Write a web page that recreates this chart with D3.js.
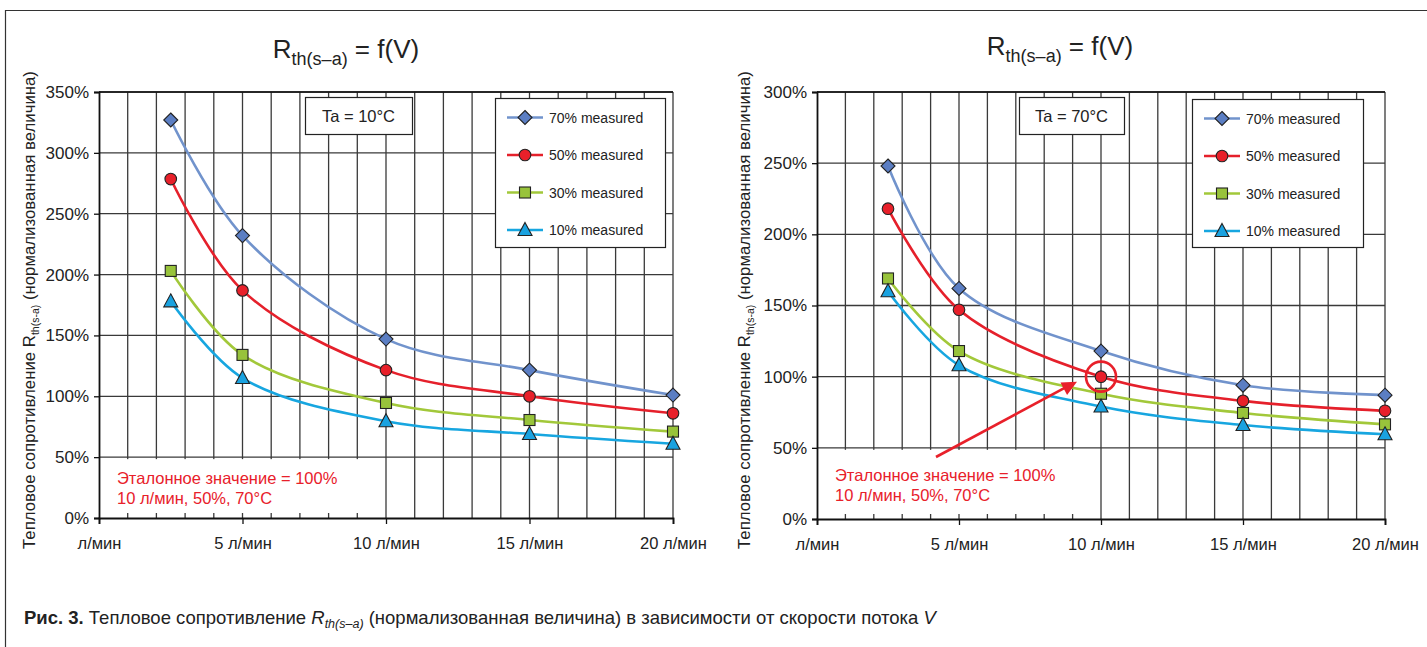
<!DOCTYPE html>
<html><head><meta charset="utf-8">
<script src="https://cdn.jsdelivr.net/npm/d3@7"></script>
<style>
html,body{margin:0;padding:0;background:#fff;}
svg{display:block;}
svg text{font-family:"Liberation Sans",Arial,Helvetica,sans-serif !important;}
</style></head>
<body>
<svg id="c" width="1427" height="647"></svg>
<script>
// ---- data ----
const flow = [2.5, 5, 10, 15, 20];
const seriesNames = ["70% measured", "50% measured", "30% measured", "10% measured"];
const xTickValues = [0, 5, 10, 15, 20];
const xTickLabels = ["л/мин", "5 л/мин", "10 л/мин", "15 л/мин", "20 л/мин"];
// Ta = 10°C
const ta10_70 = [327, 232, 147, 121.5, 101];
const ta10_50 = [278.5, 187, 121.5, 100, 86];
const ta10_30 = [203, 134, 94.5, 80.5, 71];
const ta10_10 = [178, 115, 79.5, 69, 61];
// Ta = 70°C
const ta70_70 = [248, 162, 118, 94, 87];
const ta70_50 = [218, 147, 100, 83, 76];
const ta70_30 = [169, 118, 88, 74.5, 66.5];
const ta70_10 = [160, 108, 79, 66, 59.5];
const yTicksLeft = [0, 50, 100, 150, 200, 250, 300, 350];
const yTicksRight = [0, 50, 100, 150, 200, 250, 300];
const noteLines = ["Эталонное значение = 100%", "10 л/мин, 50%, 70°C"];

const colors = ["#7193cc", "#e5202b", "#a2c83a", "#17a6e0"];
const fills = ["#5b7ec3", "#e8202a", "#98c33b", "#1aa2e0"];
const shapes = ["diamond", "circle", "square", "triangle"];

const svg = d3.select("#c");

// figure frame
svg.append("path").attr("d", "M5.5,647 V10.5 H1427").attr("fill", "none").attr("stroke", "#333").attr("stroke-width", 1.2);

function marker(g, shape, x, y, fill) {
  let el;
  if (shape === "diamond") {
    el = g.append("path").attr("d", `M${x},${y-7} L${x+7},${y} L${x},${y+7} L${x-7},${y} Z`);
  } else if (shape === "circle") {
    el = g.append("circle").attr("cx", x).attr("cy", y).attr("r", 5.8);
  } else if (shape === "square") {
    el = g.append("rect").attr("x", x-5.5).attr("y", y-5.5).attr("width", 11).attr("height", 11);
  } else {
    el = g.append("path").attr("d", `M${x},${y-7.5} L${x+7},${y+5.5} L${x-7},${y+5.5} Z`);
  }
  el.attr("fill", fill).attr("stroke", "#222").attr("stroke-width", 1.1);
}

function drawChart(cfg) {
  const g = svg.append("g");
  const x = d3.scaleLinear().domain([0, 20]).range([cfg.x0, cfg.x1]);
  const y = d3.scaleLinear().domain([0, cfg.ymax]).range([cfg.y0, cfg.y1]);

  // grid
  const gridV = d3.range(1, 21);
  g.selectAll(".gv").data(gridV).enter().append("line")
    .attr("x1", d => x(d)).attr("x2", d => x(d)).attr("y1", y(cfg.ymax)).attr("y2", y(0))
    .attr("stroke", "#3a3a3a").attr("stroke-width", 1.3);

  // white box covering grid under the note
  g.append("rect").attr("x", x(0) + 1).attr("y", y(50) + 2).attr("width", x(10) - x(0) - 3)
    .attr("height", y(0) - y(50) - 7).attr("fill", "#fff");

  g.selectAll(".gh").data(cfg.yTicks.slice(1)).enter().append("line")
    .attr("x1", x(0)).attr("x2", x(20)).attr("y1", d => y(d)).attr("y2", d => y(d))
    .attr("stroke", "#3a3a3a").attr("stroke-width", 1.3);

  // axes
  const yAxis = d3.axisLeft(y).tickValues(cfg.yTicks).tickSize(5).tickFormat(d => d + "%");
  const ya = g.append("g").attr("transform", `translate(${x(0)},0)`).call(yAxis);
  ya.select(".domain").attr("stroke", "#111").attr("stroke-width", 1.8);
  ya.selectAll(".tick line").attr("stroke", "#111").attr("stroke-width", 1.3);
  ya.selectAll(".tick text").attr("font-size", 17).attr("fill", "#222").attr("x", -10);

  const xAxis = d3.axisBottom(x).tickValues(xTickValues).tickSize(6).tickFormat((d, i) => xTickLabels[i]);
  const xa = g.append("g").attr("transform", `translate(0,${y(0)})`).call(xAxis);
  xa.select(".domain").attr("stroke", "#111").attr("stroke-width", 1.8);
  xa.selectAll(".tick line").attr("stroke", "#111").attr("stroke-width", 1.3);
  xa.selectAll(".tick text").attr("font-size", 16.5).attr("fill", "#222").attr("y", 19);
  // top border
  g.append("line").attr("x1", x(0)).attr("x2", x(20)).attr("y1", y(cfg.ymax)).attr("y2", y(cfg.ymax))
    .attr("stroke", "#111").attr("stroke-width", 1.6);

  // Ta box
  g.append("rect").attr("x", cfg.taBox[0] + 0.5).attr("y", cfg.taBox[1] + 0.5).attr("width", cfg.taBox[2]).attr("height", cfg.taBox[3])
    .attr("fill", "#fff").attr("stroke", "#222").attr("stroke-width", 1.2);
  g.append("text").attr("x", cfg.taBox[0] + cfg.taBox[2] / 2).attr("y", cfg.taBox[1] + cfg.taBox[3] / 2 + 6)
    .attr("text-anchor", "middle").attr("font-size", 16.5).attr("fill", "#222").text(cfg.taText);

  // series
  const line = d3.line().x((d, i) => x(flow[i])).y(d => y(d)).curve(d3.curveCatmullRom.alpha(0.5));
  cfg.series.forEach((vals, s) => {
    g.append("path").datum(vals).attr("d", line).attr("fill", "none")
      .attr("stroke", colors[s]).attr("stroke-width", 2.6);
  });
  cfg.series.forEach((vals, s) => {
    vals.forEach((v, i) => marker(g, shapes[s], x(flow[i]), y(v), fills[s]));
  });

  // legend
  const L = cfg.legend;
  g.append("rect").attr("x", L[0] + 0.5).attr("y", L[1] + 0.5).attr("width", L[2]).attr("height", L[3])
    .attr("fill", "#fff").attr("stroke", "#222").attr("stroke-width", 1.2);
  seriesNames.forEach((n, s) => {
    const ly = L[1] + 19.5 + s * 37.5;
    g.append("line").attr("x1", L[0] + 12).attr("x2", L[0] + 48).attr("y1", ly).attr("y2", ly)
      .attr("stroke", colors[s]).attr("stroke-width", 2.6);
    marker(g, shapes[s], L[0] + 30, ly, fills[s]);
    g.append("text").attr("x", L[0] + 54).attr("y", ly + 5).attr("font-size", 14).attr("fill", "#222").text(n);
  });

  // note text
  noteLines.forEach((t, i) => {
    g.append("text").attr("x", cfg.noteX).attr("y", cfg.noteY + i * 20).attr("font-size", 16.5)
      .attr("fill", "#e8202a").text(t);
  });

  // title
  const tt = g.append("text").attr("x", cfg.titleX).attr("y", cfg.titleY).attr("text-anchor", "middle")
    .attr("font-size", 26).attr("fill", "#222");
  tt.append("tspan").text("R");
  tt.append("tspan").attr("font-size", 18).attr("dy", 7).text("th(s–a)");
  tt.append("tspan").attr("dy", -7).text(" = f(V)");

  // y-axis label
  const yl = g.append("text").attr("transform", `translate(${cfg.ylabX},${cfg.ylabY}) rotate(-90)`)
    .attr("text-anchor", "middle").attr("font-size", 16.8).attr("fill", "#222");
  yl.append("tspan").text("Тепловое сопротивление R");
  yl.append("tspan").attr("font-size", 10.5).attr("dy", 4).text("th(s-a)");
  yl.append("tspan").attr("dy", -4).text(" (нормализованная величина)");

  return {x, y, g};
}

drawChart({
  x0: 99, x1: 673, y0: 518, y1: 92, ymax: 350, yTicks: yTicksLeft,
  series: [ta10_70, ta10_50, ta10_30, ta10_10],
  taBox: [305, 97, 107, 37], taText: "Ta = 10°C",
  legend: [495, 98, 170, 149],
  noteX: 117, noteY: 484,
  titleX: 346, titleY: 58, ylabX: 35, ylabY: 310
});

const R = drawChart({
  x0: 817, x1: 1385, y0: 519, y1: 92, ymax: 300, yTicks: yTicksRight,
  series: [ta70_70, ta70_50, ta70_30, ta70_10],
  taBox: [1019, 97, 105, 37], taText: "Ta = 70°C",
  legend: [1192, 99, 171, 148],
  noteX: 835, noteY: 481,
  titleX: 1060, titleY: 55, ylabX: 750, ylabY: 310
});

// reference annotation on right chart
const refX = R.x(10), refY = R.y(ta70_50[2]);
R.g.append("circle").attr("cx", refX).attr("cy", refY).attr("r", 15)
  .attr("fill", "none").attr("stroke", "#e8202a").attr("stroke-width", 2.6);
const ax0 = 936, ay0 = 457, ax1 = refX - 24, ay1 = refY + 5;
R.g.append("line").attr("x1", ax0).attr("y1", ay0).attr("x2", ax1 - 10).attr("y2", ay1 + 5)
  .attr("stroke", "#e8202a").attr("stroke-width", 2.6);
{
  const ang = Math.atan2(ay1 - ay0, ax1 - ax0);
  const len = 15, wid = 7;
  const bx = ax1 - len * Math.cos(ang), by = ay1 - len * Math.sin(ang);
  const px = -Math.sin(ang) * wid, py = Math.cos(ang) * wid;
  R.g.append("path").attr("d", `M${ax1},${ay1} L${bx + px},${by + py} L${bx - px},${by - py} Z`).attr("fill", "#e8202a");
}

// caption
const cap = svg.append("text").attr("x", 24).attr("y", 624).attr("font-size", 18.5).attr("fill", "#222");
cap.append("tspan").attr("font-weight", "bold").text("Рис. 3.");
cap.append("tspan").text(" Тепловое сопротивление ");
cap.append("tspan").attr("font-style", "italic").text("R");
cap.append("tspan").attr("font-style", "italic").attr("font-size", 12.5).attr("dy", 4).text("th(s–a)");
cap.append("tspan").attr("dy", -4).text(" (нормализованная величина) в зависимости от скорости потока ");
cap.append("tspan").attr("font-style", "italic").text("V");
</script>
</body></html>
